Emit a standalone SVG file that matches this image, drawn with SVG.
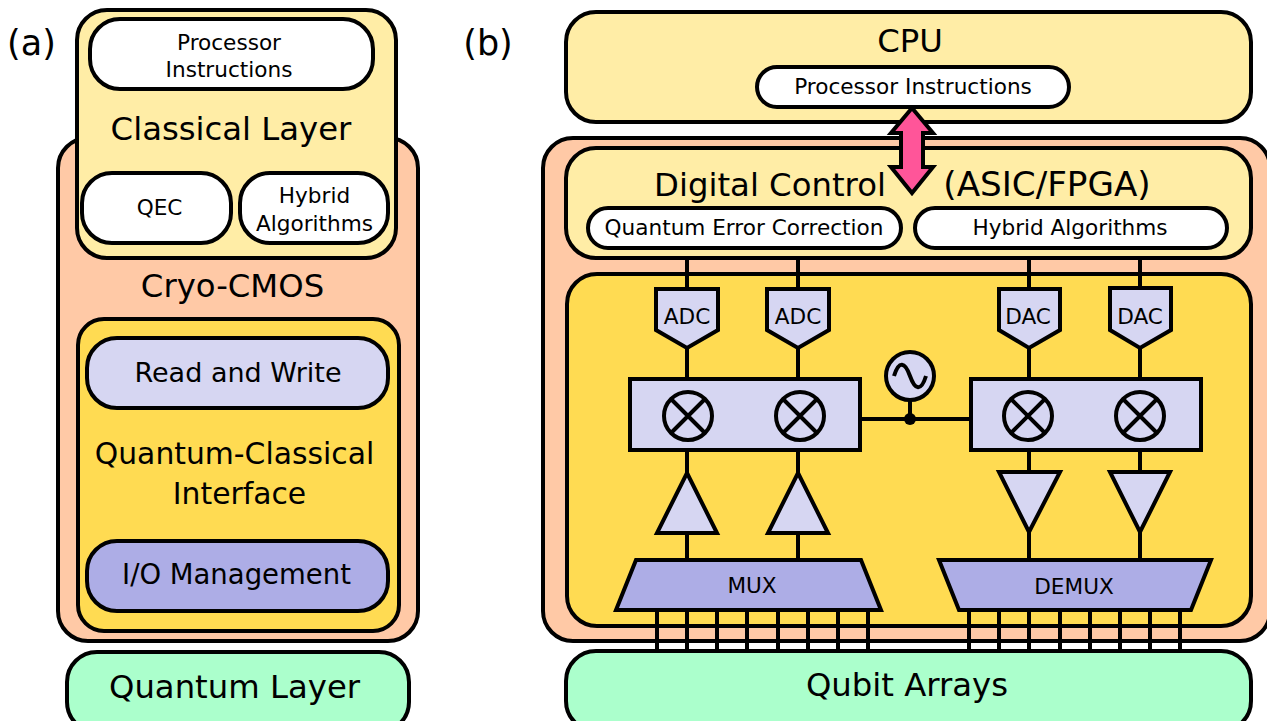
<svg xmlns="http://www.w3.org/2000/svg" width="1267" height="721" viewBox="0 0 1267 721">
<style>
text{font-family:"DejaVu Sans",Verdana,sans-serif;fill:#000;text-anchor:middle}
.s{stroke:#000;stroke-width:4;stroke-linejoin:miter}
.peach{fill:#ffc9a6}.cream{fill:#ffeda6}.gold{fill:#ffdb52}.white{fill:#fff}.lav{fill:#d6d6f2}.blue{fill:#adade6}.green{fill:#abffcc}
.w{fill:none;stroke:#000;stroke-width:4}
.lbl{font-size:35px}.t32{font-size:32.3px}.t30{font-size:29.8px}.t27{font-size:27px}.t21{font-size:21.6px}
</style>
<text x="31.5" y="55" class="lbl">(a)</text>
<text x="488" y="55" class="lbl">(b)</text>

<g id="a-cryo"><rect class="s peach" x="58" y="138" width="360" height="503" rx="30"/><text x="232.5" y="297" class="t32">Cryo-CMOS</text></g>
<g id="a-classical"><rect class="s cream" x="77" y="10" width="319" height="248" rx="30"/><text x="231" y="140" class="t32">Classical Layer</text></g>
<g id="a-processor"><rect class="s white" x="90" y="19" width="283" height="70" rx="30"/><text x="229" y="50" class="t21">Processor</text><text x="229" y="77" class="t21">Instructions</text></g>
<g id="a-qec"><rect class="s white" x="82" y="173" width="149" height="70" rx="30"/><text x="159.5" y="215" class="t21">QEC</text></g>
<g id="a-hybrid"><rect class="s white" x="240" y="173" width="148" height="70" rx="30"/><text x="314.5" y="203" class="t21">Hybrid</text><text x="314.5" y="231" class="t21">Algorithms</text></g>
<g id="a-interface"><rect class="s gold" x="78" y="319" width="321" height="312" rx="26"/><text x="234.5" y="464" class="t30">Quantum-Classical</text><text x="239.5" y="504" class="t30">Interface</text></g>
<g id="a-readwrite"><rect class="s lav" x="87" y="338" width="301" height="70" rx="30"/><text x="238" y="382" class="t27">Read and Write</text></g>
<g id="a-io"><rect class="s blue" x="87" y="541" width="301" height="70" rx="30"/><text x="236.5" y="584" style="font-size:27.5px">I/O Management</text></g>
<g id="a-quantum"><rect class="s green" x="67" y="652" width="342" height="80" rx="30"/><text x="234.5" y="698" class="t32">Quantum Layer</text></g>

<g id="b-cryo"><rect class="s peach" x="543" y="138" width="727" height="503" rx="30"/></g>
<g id="b-cpu"><rect class="s cream" x="566" y="12" width="685" height="110" rx="30"/><text x="910" y="52" class="t32">CPU</text></g>
<g id="b-instructions"><rect class="s white" x="757" y="67" width="312" height="40" rx="20"/><text x="913" y="94" class="t21">Processor Instructions</text></g>
<g id="b-digital"><rect class="s cream" x="566" y="148" width="685" height="110" rx="30"/><text x="770" y="196" class="t32">Digital Control</text><text x="1047" y="196" style="font-size:34.2px">(ASIC/FPGA)</text></g>
<g id="b-qec"><rect class="s white" x="588" y="208" width="313" height="40" rx="20"/><text x="744" y="235" class="t21">Quantum Error Correction</text></g>
<g id="b-hybrid"><rect class="s white" x="915" y="208" width="312" height="40" rx="20"/><text x="1070" y="235" class="t21">Hybrid Algorithms</text></g>
<g id="b-analog"><rect class="s gold" x="567" y="274" width="684" height="352" rx="30"/></g>

<g id="connectors" class="w">
<path class="w" d="M687 258V288M798 258V288M1029 258V288M1140 258V288M687 348V379M798 348V379M1029 348V379M1140 348V379M687 450V473M798 450V473M687 533V560M798 533V560M1029 450V472M1140 450V472M1029 532V560M1140 532V560M860 419H971M910 400V419"/>
<path class="w" d="M657 610V651M687 610V651M717 610V651M747 610V651M778 610V651M808 610V651M838 610V651M868 610V651M969 610V651M999 610V651M1029 610V651M1060 610V651M1090 610V651M1120 610V651M1150 610V651M1180 610V651"/>
<circle cx="910" cy="419" r="6" fill="#000" stroke="none"/>
</g>

<g id="adc1"><path class="s lav" d="M656 289H718V330L687 348L656 330Z"/><text x="687" y="324" class="t21">ADC</text></g>
<g id="adc2"><path class="s lav" d="M767 289H829V330L798 348L767 330Z"/><text x="798" y="324" class="t21">ADC</text></g>
<g id="dac1"><path class="s lav" d="M999 289H1060V330L1029 348L999 330Z"/><text x="1028" y="324" class="t21">DAC</text></g>
<g id="dac2"><path class="s lav" d="M1110 288H1171V330L1140 348L1110 330Z"/><text x="1140" y="324" class="t21">DAC</text></g>
<g id="osc"><circle class="s lav" cx="910" cy="376" r="24"/><path class="w" d="M894 376C899 360 905 362 910 376S921 392 926 376"/></g>
<g id="mixers-left"><rect class="s lav" x="630" y="379" width="230" height="71"/>
<g class="w"><circle cx="688" cy="416" r="24"/><path d="M671 399L705 433M705 399L671 433"/><circle cx="800" cy="416" r="24"/><path d="M783 399L817 433M817 399L783 433"/></g></g>
<g id="mixers-right"><rect class="s lav" x="971" y="379" width="230" height="71"/>
<g class="w"><circle cx="1028" cy="416" r="24"/><path d="M1011 399L1045 433M1045 399L1011 433"/><circle cx="1140" cy="416" r="24"/><path d="M1123 399L1157 433M1157 399L1123 433"/></g></g>
<g id="amp1"><path class="s lav" d="M687 473L717 533H657Z"/></g>
<g id="amp2"><path class="s lav" d="M798 473L828 533H768Z"/></g>
<g id="amp3"><path class="s lav" d="M999 472H1060L1029 532Z"/></g>
<g id="amp4"><path class="s lav" d="M1110 472H1170L1140 532Z"/></g>
<g id="mux"><path class="s blue" d="M636 560H861L881 610H616Z"/><text x="752" y="593" class="t21">MUX</text></g>
<g id="demux"><path class="s blue" d="M939 560H1211L1191 610H959Z"/><text x="1074" y="594" class="t21">DEMUX</text></g>
<g id="b-qubits"><rect class="s green" x="566" y="651" width="685" height="80" rx="30"/><text x="907" y="696" class="t32">Qubit Arrays</text></g>
<g id="arrow"><path class="s" style="fill:#ff5599" d="M912 108L933 133H923V167H933L912 193L891 167H901V133H891Z"/></g>
</svg>
